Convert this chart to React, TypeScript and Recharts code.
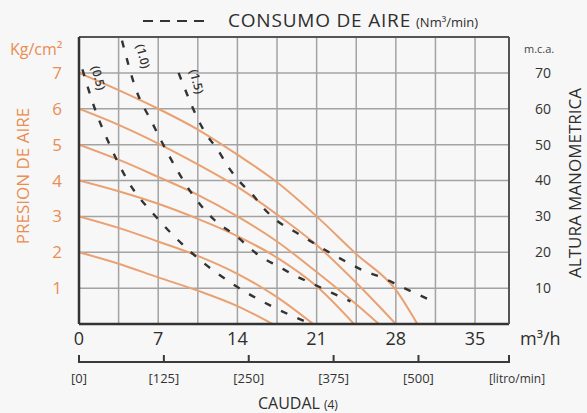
import React from 'react';
import { LineChart, Line, XAxis, YAxis, CartesianGrid, ReferenceLine } from 'recharts';

// caudal (m3/h) ticks and grid
const flowTicks = [0, 3.5, 7, 10.5, 14, 17.5, 21, 24.5, 28, 31.5, 35];
const flowLabels = ['0', '', '7', '', '14', '', '21', '', '28', '', '35'];
const pressureTicks = [0, 1, 2, 3, 4, 5, 6, 7, 8];
const pressureLabels = ['', '1', '2', '3', '4', '5', '6', '7', ''];
const headTicks = [10, 20, 30, 40, 50, 60, 70];
const litreTicks = [0, 7.5, 15, 22.5, 30, 38];
const litreLabels = ['[0]', '[125]', '[250]', '[375]', '[500]', '[litro/min]'];

// pump curves, air pressure (Kg/cm2) vs caudal
const bar7 = [
  { q: 0, p: 7 }, { q: 3.5, p: 6.52 }, { q: 7, p: 6.0 }, { q: 10.5, p: 5.42 },
  { q: 14, p: 4.72 }, { q: 17.5, p: 3.95 }, { q: 21, p: 3.0 }, { q: 24.5, p: 1.95 },
  { q: 28, p: 0.95 }, { q: 29.9, p: 0 },
];
const bar6 = [
  { q: 0, p: 6 }, { q: 3.5, p: 5.55 }, { q: 7, p: 5.03 }, { q: 10.5, p: 4.45 },
  { q: 14, p: 3.82 }, { q: 17.5, p: 3.05 }, { q: 21, p: 2.2 }, { q: 24.5, p: 1.15 },
  { q: 28, p: 0 },
];
const bar5 = [
  { q: 0, p: 5 }, { q: 3.5, p: 4.58 }, { q: 7, p: 4.1 }, { q: 10.5, p: 3.6 },
  { q: 14, p: 3.0 }, { q: 17.5, p: 2.3 }, { q: 21, p: 1.45 }, { q: 24.5, p: 0.55 },
  { q: 26.5, p: 0 },
];
const bar4 = [
  { q: 0, p: 4 }, { q: 3.5, p: 3.7 }, { q: 7, p: 3.35 }, { q: 10.5, p: 2.93 },
  { q: 14, p: 2.45 }, { q: 17.5, p: 1.85 }, { q: 21, p: 1.05 }, { q: 24.3, p: 0 },
];
const bar3 = [
  { q: 0, p: 3 }, { q: 3.5, p: 2.68 }, { q: 7, p: 2.3 }, { q: 10.5, p: 1.9 },
  { q: 14, p: 1.4 }, { q: 17.5, p: 0.75 }, { q: 20.7, p: 0 },
];
const bar2 = [
  { q: 0, p: 2 }, { q: 3.5, p: 1.68 }, { q: 7, p: 1.3 }, { q: 10.5, p: 0.93 },
  { q: 14, p: 0.5 }, { q: 17.1, p: 0 },
];

// air consumption (Nm3/min)
const air05 = [
  { q: 0.3, p: 7.1 }, { q: 1.4, p: 6.0 }, { q: 2.7, p: 5.0 }, { q: 4.3, p: 4.0 },
  { q: 7, p: 2.92 }, { q: 9.9, p: 2.0 }, { q: 13.9, p: 1.05 }, { q: 17, p: 0.5 },
  { q: 20.5, p: 0 },
];
const air10 = [
  { q: 3.8, p: 7.9 }, { q: 5.0, p: 6.57 }, { q: 6.5, p: 5.59 }, { q: 8.1, p: 4.61 },
  { q: 9.9, p: 3.67 }, { q: 11.9, p: 2.92 }, { q: 13.9, p: 2.45 }, { q: 16, p: 1.89 },
  { q: 17.6, p: 1.61 }, { q: 19.2, p: 1.33 }, { q: 20.8, p: 1.1 }, { q: 22.4, p: 0.86 },
  { q: 24, p: 0.63 },
];
const air15 = [
  { q: 8.8, p: 7.0 }, { q: 9.7, p: 6.29 }, { q: 10.4, p: 5.78 }, { q: 11.3, p: 5.26 },
  { q: 12.2, p: 4.89 }, { q: 13.1, p: 4.42 }, { q: 14.1, p: 4.0 }, { q: 15.3, p: 3.62 },
  { q: 16.4, p: 3.2 }, { q: 17.7, p: 2.83 }, { q: 19.2, p: 2.55 }, { q: 20.65, p: 2.27 },
  { q: 22.1, p: 2.0 }, { q: 23.7, p: 1.72 }, { q: 25.2, p: 1.48 }, { q: 26.9, p: 1.28 },
  { q: 28.4, p: 1.05 }, { q: 30, p: 0.82 }, { q: 31.6, p: 0.58 },
];

const pumpCurves = [bar7, bar6, bar5, bar4, bar3, bar2];
const airCurves = [
  { name: '(0.5)', data: air05, dx: 15, dy: 9 },
  { name: '(1.0)', data: air10, dx: 20, dy: 16 },
  { name: '(1.5)', data: air15, dx: 17, dy: 9 },
];

const ORANGE = '#eaa172';
const ORANGE_TEXT = '#e98d52';
const DARK = '#2e2e2e';
const AXIS2 = '#3a3a3a';
const FONT = '"Open Sans", sans-serif';

// layout of the plot (same numbers as the chart margins / axis sizes)
const W = 587;
const H = 413;
const PLOT_LEFT = 79;
const PLOT_RIGHT = W - 78;
const PLOT_BOTTOM = H - 89;
const FLOW_MAX = 38;
const LITRE_AXIS_Y = PLOT_BOTTOM + 38;
const flowToX = (q: number) => PLOT_LEFT + (q / FLOW_MAX) * (PLOT_RIGHT - PLOT_LEFT);

// labels of the litro/min scale
const renderLitreTick = (props: any) => {
  const { x, y, index } = props;
  const label = litreLabels[index];
  const last = index === litreLabels.length - 1;
  return (
    <g key={'lt' + index}>
      <text
        x={last ? x + 8 : x}
        y={y + 21}
        textAnchor="middle"
        fontSize={last ? 12 : 13}
        fill="#333"
        fontFamily={FONT}
      >
        {label}
      </text>
    </g>
  );
};

const airLabel = (name: string, dx: number, dy: number) => (props: any) => {
  const { x, y, index } = props;
  if (index !== 0) return null;
  const cx = x + dx;
  const cy = y + dy;
  return (
    <text
      key={name}
      x={cx}
      y={cy}
      transform={`rotate(75 ${cx} ${cy})`}
      textAnchor="middle"
      dominantBaseline="middle"
      fontSize={12}
      fontWeight={600}
      fill="#333"
      fontFamily={FONT}
    >
      {name}
    </text>
  );
};

const App: React.FC = () => {
  return (
    <div
      style={{
        position: 'absolute',
        left: 0,
        top: 0,
        width: W,
        height: H,
        background: '#f7f7f7',
        fontFamily: FONT,
      }}
    >
      <LineChart width={W} height={H} margin={{ top: 37, right: 0, bottom: 0, left: 0 }}>
        <CartesianGrid stroke="#a3a3a3" strokeWidth={1.5} />
        <XAxis
          dataKey="q"
          type="number"
          domain={[0, FLOW_MAX]}
          ticks={flowTicks}
          tickFormatter={(v: number) => flowLabels[flowTicks.indexOf(v)] ?? ''}
          height={38}
          tickLine={false}
          tickSize={0}
          tickMargin={8}
          axisLine={{ stroke: '#333', strokeWidth: 2.5 }}
          tick={{ fill: DARK, fontSize: 18, fontFamily: FONT }}
          allowDataOverflow
        />
        <XAxis
          xAxisId="lpm"
          dataKey="q"
          type="number"
          domain={[0, FLOW_MAX]}
          ticks={litreTicks}
          interval={0}
          height={51}
          tickSize={0}
          tickMargin={0}
          axisLine={{ stroke: AXIS2, strokeWidth: 2 }}
          tick={renderLitreTick}
          allowDataOverflow
        />
        <YAxis
          type="number"
          domain={[0, 8]}
          ticks={pressureTicks}
          tickFormatter={(v: number) => pressureLabels[pressureTicks.indexOf(v)] ?? ''}
          width={79}
          tickLine={false}
          tickSize={0}
          tickMargin={17}
          axisLine={{ stroke: '#333', strokeWidth: 2.5 }}
          tick={{ fill: ORANGE_TEXT, fontSize: 17, fontFamily: FONT }}
          allowDataOverflow
        />
        <YAxis
          yAxisId="right"
          orientation="right"
          type="number"
          domain={[0, 80]}
          ticks={headTicks}
          width={78}
          tickLine={false}
          tickSize={0}
          tickMargin={26}
          axisLine={{ stroke: '#555', strokeWidth: 2 }}
          tick={{ fill: '#333', fontSize: 14, fontFamily: FONT, textAnchor: 'start' }}
          allowDataOverflow
        />
        <ReferenceLine y={8} stroke="#555" strokeWidth={2} />
        {/* invisible series so the litro/min axis gets a scale */}
        <Line
          xAxisId="lpm"
          data={bar7}
          dataKey="p"
          stroke="none"
          dot={false}
          activeDot={false}
          isAnimationActive={false}
        />
        {pumpCurves.map((curve, i) => (
          <Line
            key={'pump' + i}
            data={curve}
            dataKey="p"
            type="monotone"
            stroke={ORANGE}
            strokeWidth={2}
            dot={false}
            isAnimationActive={false}
          />
        ))}
        {airCurves.map((c) => (
          <Line
            key={c.name}
            data={c.data}
            dataKey="p"
            type="monotone"
            stroke="#333"
            strokeWidth={2.4}
            strokeDasharray="7 11"
            dot={false}
            label={airLabel(c.name, c.dx, c.dy)}
            isAnimationActive={false}
          />
        ))}
      </LineChart>
      <svg
        width={W}
        height={H}
        style={{ position: 'absolute', left: 0, top: 0, pointerEvents: 'none' }}
        fontFamily={FONT}
      >
        {/* litro/min scale line with upward ticks */}
        <line
          x1={flowToX(0)}
          x2={flowToX(FLOW_MAX)}
          y1={LITRE_AXIS_Y}
          y2={LITRE_AXIS_Y}
          stroke={AXIS2}
          strokeWidth={2}
        />
        {litreTicks.map((t) => (
          <line
            key={'lm' + t}
            x1={flowToX(t)}
            x2={flowToX(t)}
            y1={LITRE_AXIS_Y + 1}
            y2={LITRE_AXIS_Y - 7}
            stroke={AXIS2}
            strokeWidth={2}
          />
        ))}
        <line x1={143} x2={206} y1={21} y2={21} stroke="#333" strokeWidth={2} strokeDasharray="10 7" />
        <text x={228} y={27} fontSize={19} letterSpacing={0.8} fill={DARK}>
          CONSUMO DE AIRE
          <tspan fontSize={13} letterSpacing={0} dx={5}>(Nm³/min)</tspan>
        </text>
        <text x={10} y={55} fontSize={16} fill={ORANGE_TEXT}>Kg/cm²</text>
        <text
          x={24}
          y={176}
          fontSize={17}
          fill={ORANGE_TEXT}
          textAnchor="middle"
          dominantBaseline="middle"
          transform="rotate(-90 24 176)"
        >
          PRESION DE AIRE
        </text>
        <text x={524} y={53} fontSize={11} fill="#444">m.c.a.</text>
        <text
          x={576}
          y={183}
          fontSize={17}
          fill={DARK}
          textAnchor="middle"
          dominantBaseline="middle"
          transform="rotate(-90 576 183)"
        >
          ALTURA MANOMETRICA
        </text>
        <text x={520} y={345} fontSize={18} fill={DARK}>m³/h</text>
        <text x={258} y={409} fontSize={16} fill={DARK}>
          CAUDAL
          <tspan fontSize={12} dx={4}>(4)</tspan>
        </text>
      </svg>
    </div>
  );
};

export default App;
